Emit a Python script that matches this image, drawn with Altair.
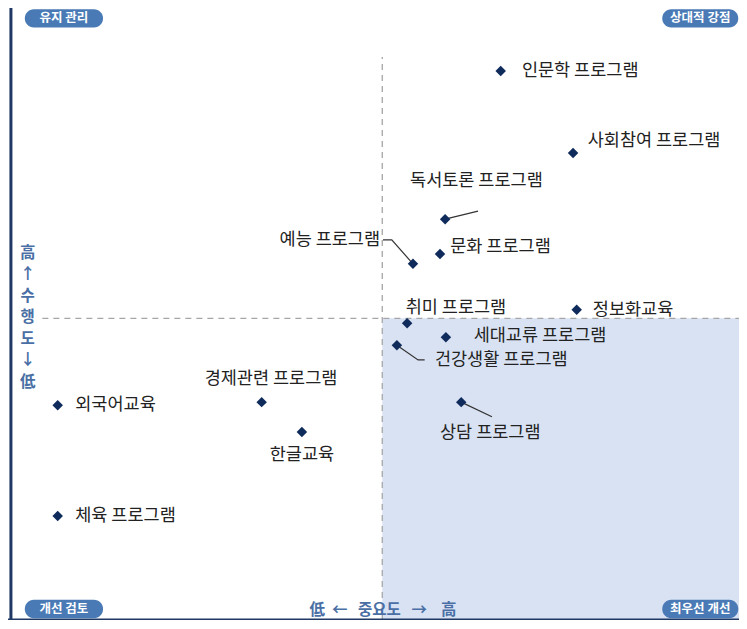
import altair as alt
import pandas as pd

# ---- data (importance = x, performance = y) ----
names = ["인문학 프로그램", "사회참여 프로그램", "독서토론 프로그램", "예능 프로그램",
         "문화 프로그램", "취미 프로그램", "정보화교육", "세대교류 프로그램",
         "건강생활 프로그램", "상담 프로그램", "경제관련 프로그램", "한글교육",
         "외국어교육", "체육 프로그램"]
importance = [67.4, 77.3, 59.8, 55.4, 59.1, 54.6, 77.8, 59.9, 53.2, 62.0, 34.7, 40.2, 6.8, 6.8]
performance = [89.7, 76.3, 65.5, 58.2, 59.8, 48.5, 50.7, 46.2, 44.9, 35.6, 35.6, 30.7, 35.1, 17.0]

# label anchors (data units) and alignment
label_x = [70.3, 79.3, 55.0, 50.9, 60.5, 54.4, 80.0, 63.7, 58.4, 59.1, 26.9, 35.8, 9.2, 9.2]
label_y = [89.7, 78.3, 71.7, 62.1, 60.9, 51.0, 50.7, 46.4, 42.5, 30.6, 39.4, 27.0, 35.1, 17.0]
label_align = ["left", "left", "left", "right", "left", "left", "left", "left",
               "left", "left", "left", "left", "left", "left"]

# leader lines (data units)
leader_name = ["독서토론", "독서토론", "예능", "예능", "예능", "건강생활", "건강생활", "건강생활", "상담", "상담"]
leader_order = [0, 1, 0, 1, 2, 0, 1, 2, 0, 1]
leader_x = [59.8, 64.3, 51.3, 52.5, 55.4, 53.2, 56.1, 57.0, 62.0, 66.2]
leader_y = [65.5, 66.8, 62.1, 62.1, 58.2, 44.9, 42.5, 42.5, 35.6, 33.2]

mean_importance = 51.2
mean_performance = 49.3

quad_labels = ["유지 관리", "상대적 강점", "개선 검토", "최우선 개선"]
quad_x1 = [2.3, 89.5, 2.3, 89.5]
quad_x2 = [13.0, 99.9, 13.0, 99.9]
quad_y1 = [96.8, 96.8, 0.3, 0.3]
quad_y2 = [99.8, 99.8, 3.3, 3.3]

NB = "\u00a0"
x_axis_title = "低" + NB * 2 + "←" + NB * 3 + "중요도" + NB * 3 + "→" + NB * 4 + "高"
y_axis_title = "高\n↑\n수\n행\n도\n↓\n低"

FONT = "Noto Sans CJK KR"
NAVY = "#0f2b5b"
BADGE = "#4a7ab5"
TITLE_C = "#4a6fa5"

pts = pd.DataFrame({"name": names, "x": importance, "y": performance})
labs = pd.DataFrame({"name": names, "lx": label_x, "ly": label_y, "align": label_align})
lead = pd.DataFrame({"g": leader_name, "o": leader_order, "x": leader_x, "y": leader_y})
quad = pd.DataFrame({"t": quad_labels, "x1": quad_x1, "x2": quad_x2, "y1": quad_y1, "y2": quad_y2})
quad["cx"] = (quad["x1"] + quad["x2"]) / 2
quad["cy"] = (quad["y1"] + quad["y2"]) / 2

xs = alt.Scale(domain=[0, 100], nice=False, zero=False)
ys = alt.Scale(domain=[0, 100], nice=False, zero=False)

def X(f):
    return alt.X(f, type="quantitative", scale=xs, axis=None)

def Y(f):
    return alt.Y(f, type="quantitative", scale=ys, axis=None)

shade = alt.Chart(pd.DataFrame({"x1": [mean_importance], "x2": [100], "y1": [0], "y2": [mean_performance]})).mark_rect(
    color="#d9e2f3").encode(x=X("x1"), x2="x2", y=Y("y1"), y2="y2")

vline = alt.Chart(pd.DataFrame({"x": [mean_importance], "y1": [0], "y2": [92.0]})).mark_rule(
    color="#a6a6a6", strokeDash=[6, 5], strokeWidth=1.3).encode(x=X("x"), y=Y("y1"), y2="y2")
hline = alt.Chart(pd.DataFrame({"y": [mean_performance], "x1": [4.7], "x2": [100]})).mark_rule(
    color="#a6a6a6", strokeDash=[6, 5], strokeWidth=1.3).encode(y=Y("y"), x=X("x1"), x2="x2")

frame_left = alt.Chart(pd.DataFrame({"x": [0.4], "y1": [0], "y2": [100]})).mark_rule(
    color="#1f3864", strokeWidth=3).encode(x=X("x"), y=Y("y1"), y2="y2")
frame_bottom = alt.Chart(pd.DataFrame({"y": [0], "x1": [0], "x2": [100]})).mark_rule(
    color="#1f3864", strokeWidth=3).encode(y=Y("y"), x=X("x1"), x2="x2")

leaders = alt.Chart(lead).mark_line(color="#333333", strokeWidth=1.2).encode(
    x=X("x"), y=Y("y"), detail="g:N", order="o:Q")

points = alt.Chart(pts).mark_point(shape="diamond", filled=True, size=110, color=NAVY, opacity=1).encode(
    x=X("x"), y=Y("y"))

labels_left = alt.Chart(labs[labs["align"] == "left"]).mark_text(
    align="left", baseline="middle", font=FONT, fontSize=17.5, color="#222222").encode(
    x=X("lx"), y=Y("ly"), text="name:N")
labels_right = alt.Chart(labs[labs["align"] == "right"]).mark_text(
    align="right", baseline="middle", font=FONT, fontSize=17.5, color="#222222").encode(
    x=X("lx"), y=Y("ly"), text="name:N")

badges = alt.Chart(quad).mark_rect(color=BADGE, cornerRadius=9).encode(
    x=X("x1"), x2="x2", y=Y("y1"), y2="y2")
badge_text = alt.Chart(quad).mark_text(
    font=FONT, fontSize=12.5, fontWeight="bold", color="white", baseline="middle", align="center").encode(
    x=X("cx"), y=Y("cy"), text="t:N")

xtitle = alt.Chart(pd.DataFrame({"x": [51.3], "y": [1.6], "t": [x_axis_title]})).mark_text(
    font=FONT, fontSize=15.5, fontWeight="bold", color=TITLE_C, baseline="middle", align="center").encode(
    x=X("x"), y=Y("y"), text="t:N")
ytitle = alt.Chart(pd.DataFrame({"x": [2.7], "y": [60.0], "t": [y_axis_title]})).mark_text(
    font=FONT, fontSize=15.5, fontWeight="bold", color=TITLE_C, baseline="middle", align="center",
    lineBreak="\n", lineHeight=21.5).encode(
    x=X("x"), y=Y("y"), text="t:N")

chart = alt.layer(
    shade, vline, hline, frame_left, frame_bottom, leaders, points,
    labels_left, labels_right, badges, badge_text, xtitle, ytitle
).properties(
    width=731, height=612, padding=0, autosize=alt.AutoSizeParams(type="none"), background="white"
).configure_view(stroke=None)

chart.save("out.html", embed_options={"renderer": "svg", "actions": False})
